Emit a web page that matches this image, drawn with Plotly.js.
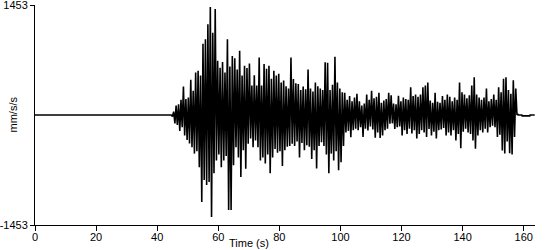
<!DOCTYPE html>
<html>
<head>
<meta charset="utf-8">
<script src="https://cdn.plot.ly/plotly-3.0.1.min.js"></script>
<style>
  html, body { margin: 0; padding: 0; background: #fff; }
  #chart { width: 550px; height: 250px; }
</style>
</head>
<body>
<div id="chart"></div>
<script>
// ---- Data (mm/s/s) ----
// Quiet pre-event trace
const preTime = [0, 10, 20, 30, 40, 44.6];
const preAccel = [0, 0, 0, 0, 0, 0];

// Strong-motion record, sampled every 0.4 s in 10 s windows
const sampleStep = 0.4;
const windowStarts = [45, 55, 65, 75, 85, 95, 105, 115, 125, 135, 145];
const acc45to55 = [-20, 45, -110, 125, -130, 140, -210, 200, -160, 375, -270, 210, -330, 230, -375, 465, -425, 320, -510, 560, -480, 585, -690, 520, -1150];
const acc55to65 = [940, -860, 1000, -925, 1200, -885, 1427, -1348, 1085, -770, 1400, -600, 715, -520, 625, -690, 700, -600, 560, -540, 1000, -1255, 640, -1255, 780];
const acc65to75 = [-665, 750, -425, 600, -560, 850, -820, 520, -465, 650, -710, 620, -380, 680, -310, 390, -425, 525, -335, 390, -425, 760, -600, 390, -560];
const acc75to85 = [675, -640, 610, -520, 650, -770, 480, -560, 585, -450, 520, -500, 545, -480, 430, -675, 455, -465, 380, -420, 350, -410, 760, -380, 475];
const acc85to95 = [-410, 420, -350, 410, -560, 330, -370, 375, -465, 340, -400, 600, -420, 350, -580, 310, -465, 430, -705, 380, -410, 350, -360, 330, -410];
const acc95to105 = [695, -520, 690, -770, 330, -510, 400, -600, 770, -480, 430, -730, 350, -625, 300, -410, 295, -230, 200, -210, 250, -295, 180, -200, 230];
const acc105to115 = [-180, 280, -200, 180, -160, 125, -290, 150, -180, 270, -205, 200, -150, 320, -190, 220, -300, 240, -230, 295, -305, 160, -270, 190, -200];
const acc115to125 = [210, -180, 295, -115, 260, -110, 150, -185, 140, -160, 255, -150, 180, -270, 230, -200, 210, -250, 200, -180, 365, -245, 250, -200, 270];
const acc125to135 = [-310, 240, -250, 270, -200, 365, -230, 390, -290, 430, -185, 190, -270, 160, -220, 295, -310, 175, -200, 160, -190, 250, -170, 200, -270];
const acc135to145 = [270, -230, 240, -270, 180, -200, 230, -335, 200, -250, 430, -440, 300, -220, 270, -180, 220, -230, 260, -250, 390, -335, 500, -445, 270];
const acc145to158 = [-270, 230, -200, 200, -230, 230, -180, 350, -230, 180, -160, 210, -140, 270, -160, 200, -290, 365, -260, 300, -470, 480, -510, 500, -350, 330, -505, 280, -520, 460, -290, 350];

// Quiet post-event trace
const postTime = [157.8, 158.0, 158.2, 159.4, 159.5, 162.0, 162.1, 163.6];
const postAccel = [0, 15, 0, 0, -12, -12, 0, 0];

// Axis ticks
const xTicks = [0, 20, 40, 60, 80, 100, 120, 140, 160];
const yTicks = [-1453, 1453];
const yTickText = ['-1453', '1453'];

// ---- Build trace ----
const windows = [acc45to55, acc55to65, acc65to75, acc75to85, acc85to95, acc95to105,
                 acc105to115, acc115to125, acc125to135, acc135to145, acc145to158];
const t = [...preTime];
const a = [...preAccel];
windows.forEach((w, k) => {
  w.forEach((v, i) => {
    t.push(+(windowStarts[k] + i * sampleStep).toFixed(2));
    a.push(v);
  });
});
postTime.forEach((tt, i) => { t.push(tt); a.push(postAccel[i]); });

const trace = {
  x: t, y: a, type: 'scatter', mode: 'lines',
  line: { color: '#000', width: 1.6, simplify: false },
  hoverinfo: 'skip'
};

const fontFam = 'Liberation Sans, Arial, Helvetica, sans-serif';
const layout = {
  width: 550, height: 250,
  margin: { l: 35, r: 15, t: 5, b: 25, pad: 0 },
  paper_bgcolor: '#fff', plot_bgcolor: '#fff',
  showlegend: false,
  font: { family: fontFam, size: 11, color: '#000' },
  xaxis: {
    range: [0, 163.7], tickvals: xTicks, ticks: 'outside', ticklen: 5, tickwidth: 1,
    tickcolor: '#000', showline: true, linecolor: '#000', linewidth: 1,
    ticklabelstandoff: -3, ticklabeloverflow: 'allow',
    showgrid: false, zeroline: false, tickfont: { family: fontFam, size: 11, color: '#000' }
  },
  yaxis: {
    range: [-1453, 1453], tickvals: yTicks, ticktext: yTickText, ticks: 'outside', ticklen: 4,
    tickwidth: 1, tickcolor: '#000', showline: true, linecolor: '#000', linewidth: 1,
    ticklabeloverflow: 'allow',
    showgrid: false, zeroline: false, tickfont: { family: fontFam, size: 11, color: '#000' }
  },
  annotations: [
    { text: 'Time (s)', xref: 'paper', yref: 'paper', x: 0.428, y: -0.084,
      xanchor: 'center', yanchor: 'middle', showarrow: false,
      font: { family: fontFam, size: 11, color: '#000' } },
    { text: 'mm/s/s', xref: 'paper', yref: 'paper', x: -0.045, y: 0.5, textangle: -90,
      xanchor: 'center', yanchor: 'middle', showarrow: false,
      font: { family: fontFam, size: 11, color: '#000' } }
  ]
};

Plotly.newPlot('chart', [trace], layout, { staticPlot: true, displayModeBar: false });
</script>
</body>
</html>
